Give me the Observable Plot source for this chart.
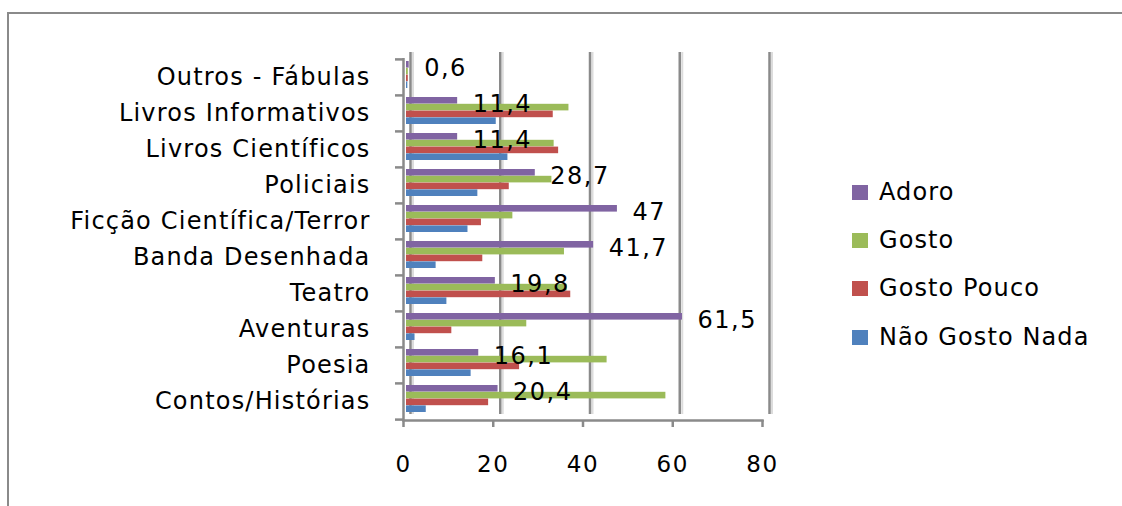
<!DOCTYPE html>
<html>
<head>
<meta charset="utf-8">
<script src="https://cdn.jsdelivr.net/npm/d3@7"></script>
<script src="https://cdn.jsdelivr.net/npm/@observablehq/plot@0.6"></script>
<style>
  html, body { margin: 0; padding: 0; background: #fff; overflow: hidden; }
  #wrap { position: relative; width: 1122px; height: 506px; font-family: "DejaVu Sans", sans-serif; }
  #frame { position: absolute; left: 7px; top: 12px; width: 1200px; height: 600px;
           border-top: 2.5px solid #8a8a8a; border-left: 2.5px solid #8a8a8a; }
  #chart { position: absolute; left: 0; top: 0; }
  #legend { position: absolute; left: 852px; top: 0; }
  .lg-row { position: absolute; left: 0; white-space: nowrap; display: flex; align-items: center; height: 24px; }
  .lg-sw { width: 16px; height: 15px; margin-right: 11px; }
  .lg-tx { font-size: 24px; letter-spacing: 1.1px; color: #000; }
  g[aria-label="y-axis tick label"] text { letter-spacing: 1.2px; }
  g[aria-label="x-axis tick label"] text { letter-spacing: 1.5px; }
  g[aria-label="text"] text { letter-spacing: 1.5px; }
</style>
</head>
<body>
<div id="wrap">
  <div id="frame"></div>
  <div id="chart"></div>
  <div id="legend"></div>
</div>
<script>
const categories = ["Outros - Fábulas", "Livros Informativos", "Livros Científicos", "Policiais",
  "Ficção Científica/Terror", "Banda Desenhada", "Teatro", "Aventuras", "Poesia", "Contos/Histórias"];
const series = ["Adoro", "Gosto", "Gosto Pouco", "Não Gosto Nada"];
const adoro      = [0.6, 11.4, 11.4, 28.7, 47.0, 41.7, 19.8, 61.5, 16.1, 20.4];
const gosto      = [0.4, 36.2, 32.9, 32.4, 23.7, 35.2, 35.8, 26.8, 44.7, 57.8];
const gostoPouco = [0.4, 32.7, 33.9, 22.9, 16.7, 17.0, 36.6, 10.1, 25.2, 18.3];
const naoGosto   = [0.3, 20.0, 22.6, 15.9, 13.7, 6.6, 9.0, 1.9, 14.4, 4.4];
const adoroLabels = ["0,6", "11,4", "11,4", "28,7", "47", "41,7", "19,8", "61,5", "16,1", "20,4"];
const xTicks = [0, 20, 40, 60, 80];
const colors = ["#8064A2", "#9BBB59", "#C0504D", "#4F81BD"];

const seriesValues = [adoro, gosto, gostoPouco, naoGosto];
const rows = [];
seriesValues.forEach((vals, k) => categories.forEach((c, i) => rows.push({category: c, series: series[k], value: vals[i], label: k === 0 ? adoroLabels[i] : ""})));

const W = 1122, H = 506;
const marginLeft = 403, marginRight = W - 762, marginTop = 58, marginBottom = H - 420;
const step = (H - marginTop - marginBottom) / categories.length;
const barH = 6.8, barTop0 = 2;
const grey = "#8a8a8a";

const barMarks = series.map((s, k) => Plot.barX(rows.filter(d => d.series === s), {
  x: "value", y: "category", fill: "series",
  insetTop: barTop0 + barH * k,
  insetBottom: step - (barTop0 + barH * (k + 1)),
  dx: 3
}));

const plot = Plot.plot({
  width: W, height: H,
  marginLeft, marginRight, marginTop, marginBottom,
  style: {fontFamily: "DejaVu Sans, sans-serif", background: "transparent", overflow: "visible"},
  x: {domain: [0, 80], axis: null, label: null},
  y: {domain: categories, padding: 0, axis: null, label: null},
  color: {domain: series, range: colors},
  marks: [
    Plot.ruleX(xTicks, {dx: 9.5, dy: -6, stroke: "#dcdcdc", strokeWidth: 2}),
    Plot.ruleX(xTicks, {dx: 7, dy: -6, stroke: grey, strokeWidth: 2.5}),
    ...barMarks,
    Plot.ruleX([0], {stroke: grey, strokeWidth: 2.5}),
    Plot.frame({anchor: "bottom", stroke: grey, strokeWidth: 2.5}),
    Plot.axisX(xTicks, {tickSize: 7, tickPadding: 28, stroke: grey, strokeWidth: 2.5, fill: "#000", fontSize: 23, label: null}),
    Plot.axisY({tickSize: 0, tickPadding: 33, fill: "#000", fontSize: 24, label: null}),
    Plot.axisY({tickSize: 8, fill: "none", dy: -step / 2, stroke: grey, strokeWidth: 2.5, label: null}),
    Plot.axisY([categories[categories.length - 1]], {tickSize: 8, fill: "none", dy: step / 2, stroke: grey, strokeWidth: 2.5, label: null}),
    Plot.text(rows.filter(d => d.series === series[0]), {
      x: "value", y: "category", text: "label", dx: 18, dy: -9,
      textAnchor: "start", fontSize: 24, fill: "#000"
    })
  ]
});
document.getElementById("chart").appendChild(plot);

const legend = document.getElementById("legend");
const legendTops = [192, 240, 288, 337];
series.forEach((s, k) => {
  const row = document.createElement("div");
  row.className = "lg-row";
  row.style.top = (legendTops[k] - 12) + "px";
  const sw = document.createElement("div");
  sw.className = "lg-sw";
  sw.style.background = plot.scale("color").apply(s);
  const tx = document.createElement("span");
  tx.className = "lg-tx";
  tx.textContent = s;
  row.appendChild(sw); row.appendChild(tx);
  legend.appendChild(row);
});
</script>
</body>
</html>
